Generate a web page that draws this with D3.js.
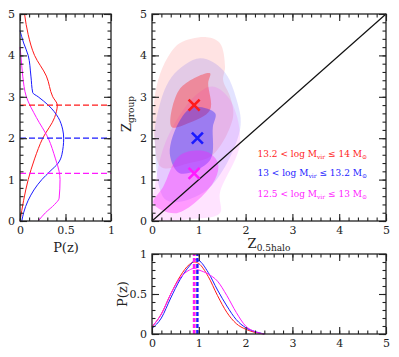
<!DOCTYPE html>
<html lang="en">
<head>
<meta charset="UTF-8">
<title>Z_group vs Z_0.5halo</title>
<script src="https://d3js.org/d3.v7.min.js"></script>
<style>
  body { margin: 0; background: #fff; }
  svg text { font-family: "DejaVu Serif", "Liberation Serif", serif !important; }
  .tick text { font-size: 11px; fill: #222; }
  .tick line { stroke: #222; stroke-width: 1.1; }
  .domain { display: none; }
</style>
</head>
<body>
<script>
// ---- data ----
const groupNames = ["high", "mid", "low"];
const groupColors = ["#ff1a1a", "#1a1aff", "#ff1aff"];
const legendLow = ["13.2", "13", "12.5"];
const legendHigh = ["14", "13.2", "13"];

// medians (x = z_0.5halo, y = z_group)
const medianX = [0.9, 0.97, 0.9];
const medianY = [2.8, 2.0, 1.15];

// P(z_group) on the left panel: [z, P]
const leftRed = [[0,0.0],[0.5,0.04],[1,0.09],[1.5,0.16],[2,0.25],[2.5,0.38],[2.8,0.41],[3,0.36],[3.5,0.29],[4,0.16],[4.5,0.09],[5,0.05]];
const leftBlue = [[0,0.02],[0.2,0.04],[0.5,0.09],[1,0.24],[1.2,0.33],[1.4,0.42],[1.6,0.46],[2,0.48],[2.2,0.47],[2.5,0.42],[2.8,0.31],[3,0.2],[3.1,0.14],[3.5,0.12],[4,0.09],[4.3,0.04],[4.6,0.0]];
const leftMag = [[0,0.2],[0.2,0.28],[0.4,0.38],[0.55,0.43],[1,0.44],[1.2,0.43],[1.5,0.39],[2,0.31],[2.5,0.18],[3,0.07],[3.5,0.03],[4,0.01],[4.2,0.0]];

// P(z_0.5halo) on the bottom panel: [z, P]
const botRed = [[0,0.09],[0.2,0.25],[0.4,0.5],[0.6,0.72],[0.8,0.87],[0.9,0.9],[1.0,0.88],[1.2,0.72],[1.4,0.48],[1.6,0.27],[1.8,0.13],[2.0,0.06],[2.2,0.02],[2.4,0.0]];
const botBlue = [[0,0.07],[0.2,0.2],[0.4,0.45],[0.6,0.68],[0.8,0.85],[0.95,0.93],[1.0,0.92],[1.2,0.77],[1.4,0.55],[1.6,0.35],[1.8,0.18],[2.0,0.08],[2.2,0.03],[2.4,0.0]];
const botMag = [[0,0.09],[0.2,0.25],[0.4,0.5],[0.6,0.7],[0.8,0.8],[0.9,0.82],[1.0,0.8],[1.2,0.75],[1.4,0.66],[1.6,0.48],[1.8,0.27],[2.0,0.1],[2.2,0.03],[2.4,0.0]];

// contour outlines (x, y in data units)
const redOuter = [[1.17,4.44],[0.6,4.3],[0.34,3.96],[0.13,3.4],[0.03,2.68],[0.05,2.0],[0.2,1.3],[0.8,1.4],[1.3,1.6],[1.73,2.5],[1.67,3.0],[1.52,3.4],[1.56,3.72],[1.45,4.3]];
const redInner = [[1.24,3.57],[0.6,3.2],[0.42,2.27],[0.77,2.36],[1.24,2.68],[1.2,3.33]];
const blueOuter = [[1.03,3.93],[0.42,3.48],[0.1,2.5],[0.06,1.88],[0.31,0.5],[1.17,0.75],[1.88,2.2],[1.81,2.92],[1.52,3.64]];
const blueInner = [[0.88,2.75],[0.6,2.44],[0.38,1.63],[0.6,1.15],[1.24,1.47],[1.3,2.27],[1.35,2.6]];
const magOuter = [[1.3,3.25],[0.9,3.0],[0.31,1.96],[0.06,0.83],[0.0,0.02],[0.8,0.05],[1.45,0.19],[1.45,0.67],[1.88,1.88],[1.67,2.92]];
const magInner = [[1.17,1.67],[0.6,1.59],[0.24,0.83],[0.03,0.43],[0.53,0.19],[1.3,0.91],[1.41,1.39]];

const leftCurves = [leftRed, leftBlue, leftMag];
const botCurves = [botRed, botBlue, botMag];
const outers = [redOuter, blueOuter, magOuter];
const inners = [redInner, blueInner, magInner];

// ---- layout ----
const width = 399, height = 357;
const svg = d3.select("body").append("svg").attr("width", width).attr("height", height);

const mainX = d3.scaleLinear().domain([0, 5]).range([152, 386]);
const mainY = d3.scaleLinear().domain([0, 5]).range([221, 14]);
const leftX = d3.scaleLinear().domain([0, 1]).range([20, 111]);
const botX = d3.scaleLinear().domain([0, 5]).range([152, 386]);
const botY = d3.scaleLinear().domain([0, 1]).range([334, 254]);

function frame(x, y, xMaj, xMin, yMaj, yMin, xLab, yLab) {
  const g = svg.append("g");
  const [x0, x1] = x.range(), [y0, y1] = y.range();
  const sides = [
    [d3.axisBottom, `translate(0,${y0})`, x, xMaj, xMin, xLab],
    [d3.axisTop, `translate(0,${y1})`, x, xMaj, xMin, null],
    [d3.axisLeft, `translate(${x0},0)`, y, yMaj, yMin, yLab],
    [d3.axisRight, `translate(${x1},0)`, y, yMaj, yMin, null]
  ];
  for (const [ax, tr, sc, maj, min, lab] of sides) {
    g.append("g").attr("transform", tr)
      .call(ax(sc).tickValues(min).tickSize(-3.5).tickFormat(""));
    g.append("g").attr("transform", tr)
      .call(ax(sc).tickValues(maj).tickSize(-7).tickPadding(5)
        .tickFormat(lab ? lab : ""));
  }
  g.append("rect").attr("x", x0).attr("y", y1)
    .attr("width", x1 - x0).attr("height", y0 - y1)
    .attr("fill", "none").attr("stroke", "#222").attr("stroke-width", 1.3);
}

const steps = (a, b, s) => d3.range(Math.round((b - a) / s) + 1).map(i => +(a + i * s).toFixed(3));
const fmt = d => (d === 0.5 ? "0.5" : d3.format("d")(d));

// ---- main panel: contours ----
svg.append("clipPath").attr("id", "mainclip").append("rect")
  .attr("x", 152).attr("y", 14).attr("width", 234).attr("height", 207);

const blob = d3.line().x(d => mainX(d[0])).y(d => mainY(d[1])).curve(d3.curveCatmullRomClosed.alpha(0.5));
const cont = svg.append("g").attr("clip-path", "url(#mainclip)");
outers.forEach((pts, i) => {
  cont.append("path").attr("d", blob(pts)).attr("fill", groupColors[i]).attr("fill-opacity", 0.12);
});
inners.forEach((pts, i) => {
  cont.append("path").attr("d", blob(pts)).attr("fill", groupColors[i]).attr("fill-opacity", 0.36);
});

// one-to-one line
svg.append("line")
  .attr("x1", mainX(0)).attr("y1", mainY(0)).attr("x2", mainX(5)).attr("y2", mainY(5))
  .attr("stroke", "#111").attr("stroke-width", 1.2);

// median crosses
medianX.forEach((mx, i) => {
  const cx = mainX(mx), cy = mainY(medianY[i]), s = 5.5;
  svg.append("path")
    .attr("d", `M${cx - s},${cy - s}L${cx + s},${cy + s}M${cx - s},${cy + s}L${cx + s},${cy - s}`)
    .attr("stroke", groupColors[i]).attr("stroke-width", 2.6);
});

frame(mainX, mainY, steps(0, 5, 1), steps(0, 5, 0.2), steps(0, 5, 1), steps(0, 5, 0.2), fmt, fmt);

// legend
const legY = [157, 176, 197];
groupNames.forEach((n, i) => {
  const t = svg.append("text").attr("x", 367).attr("y", legY[i])
    .attr("text-anchor", "end").attr("fill", groupColors[i]).style("font-size", "9px");
  t.append("tspan").text(`${legendLow[i]} < log M`);
  t.append("tspan").text("vir").attr("dy", 2).style("font-size", "6px");
  t.append("tspan").text(` ≤ ${legendHigh[i]} M`).attr("dy", -2);
  t.append("tspan").text("⊙").attr("dy", 2).style("font-size", "6px");
});

// ---- left panel ----
const leftLine = d3.line().x(d => leftX(d[1])).y(d => mainY(d[0])).curve(d3.curveMonotoneY);
leftCurves.forEach((c, i) => {
  svg.append("path").attr("d", leftLine(c)).attr("fill", "none")
    .attr("stroke", groupColors[i]).attr("stroke-width", 1);
});
medianY.forEach((m, i) => {
  svg.append("line").attr("x1", leftX(0)).attr("x2", leftX(1))
    .attr("y1", mainY(m)).attr("y2", mainY(m))
    .attr("stroke", groupColors[i]).attr("stroke-width", 1.3).attr("stroke-dasharray", "6,3");
});
frame(leftX, mainY, [0, 0.5, 1], steps(0, 1, 0.1), steps(0, 5, 1), steps(0, 5, 0.2), fmt, fmt);

// ---- bottom panel ----
const botLine = d3.line().x(d => botX(d[0])).y(d => botY(d[1])).curve(d3.curveMonotoneX);
botCurves.forEach((c, i) => {
  svg.append("path").attr("d", botLine(c)).attr("fill", "none")
    .attr("stroke", groupColors[i]).attr("stroke-width", 1);
});
[0, 2, 1].forEach(i => {
  svg.append("line").attr("x1", botX(medianX[i])).attr("x2", botX(medianX[i]))
    .attr("y1", botY(0)).attr("y2", botY(1))
    .attr("stroke", groupColors[i]).attr("stroke-width", 2.4).attr("stroke-dasharray", "4,2");
});
frame(botX, botY, steps(0, 5, 1), steps(0, 5, 0.2), [0, 0.5, 1], steps(0, 1, 0.1), fmt, fmt);

// ---- axis labels ----
function subLabel(x, y, main, sub, rotate) {
  const t = svg.append("text").attr("text-anchor", "middle").style("font-size", "13px").attr("fill", "#222")
    .attr("transform", `translate(${x},${y})` + (rotate ? " rotate(-90)" : ""));
  t.append("tspan").text(main);
  t.append("tspan").text(sub).attr("dy", 3).style("font-size", "9px");
}
subLabel(269, 248, "Z", "0.5halo", false);
subLabel(131, 114, "Z", "group", true);

svg.append("text").attr("x", 66).attr("y", 252).attr("text-anchor", "middle")
  .style("font-size", "13px").attr("fill", "#222").text("P(z)");
svg.append("text").attr("transform", "translate(127,294) rotate(-90)").attr("text-anchor", "middle")
  .style("font-size", "13px").attr("fill", "#222").text("P(z)");
</script>
</body>
</html>
